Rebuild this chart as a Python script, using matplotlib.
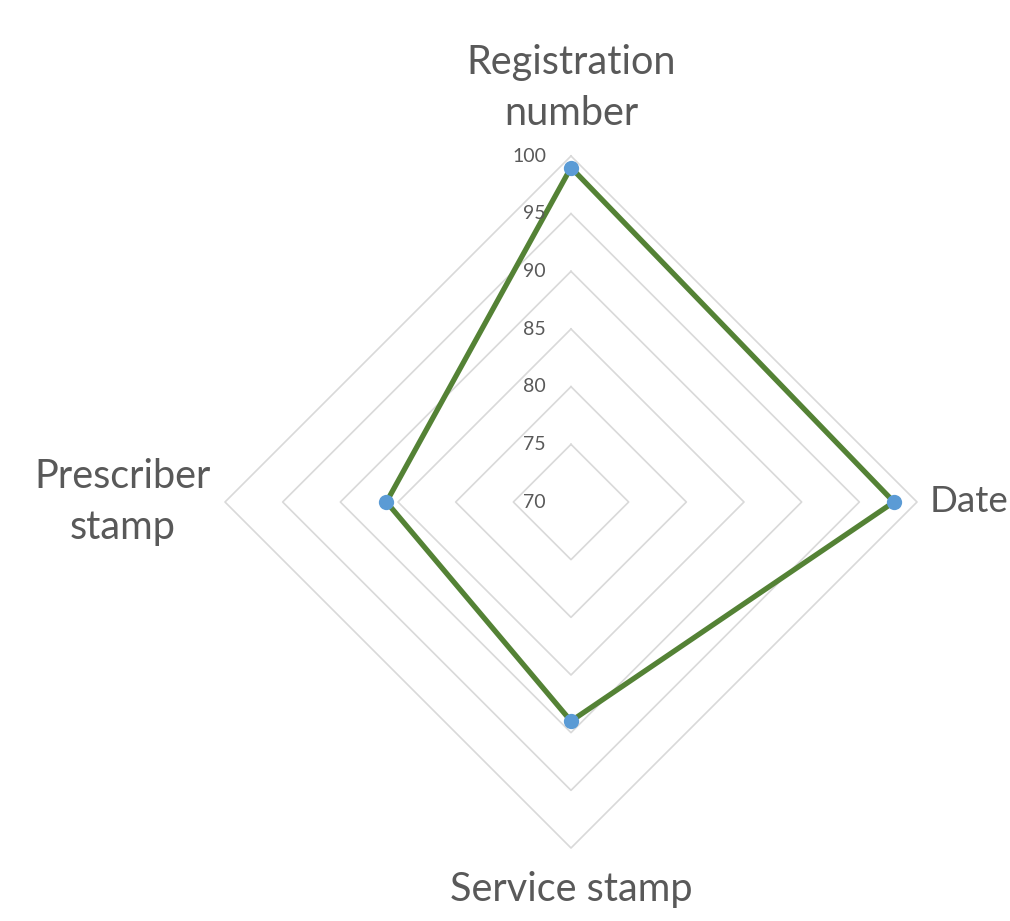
import numpy as np
import matplotlib
matplotlib.use("Agg")
import matplotlib.pyplot as plt
from matplotlib.transforms import offset_copy

categories = ["Registration\nnumber", "Date", "Service stamp", "Prescriber\nstamp"]
values = [99, 98, 89, 86]
levels = [70, 75, 80, 85, 90, 95, 100]

plt.rcParams['font.family'] = ['Lato', 'DejaVu Sans']

fig = plt.figure(figsize=(10.1, 9.21), dpi=100)
W, H = 1010, 921
cx, cy, R = 571, 502, 346
ax = fig.add_axes([(cx - R) / W, (H - cy - R) / H, 2 * R / W, 2 * R / H], projection='polar')
ax.set_theta_offset(np.pi / 2)
ax.set_theta_direction(-1)
ax.set_ylim(levels[0], levels[-1])
ax.grid(False)
ax.spines['polar'].set_visible(False)
ax.set_xticks([])
ax.set_yticks([])
ax.patch.set_alpha(0)

n = len(categories)
theta = np.arange(n) * 2 * np.pi / n
theta_c = np.append(theta, theta[0])

for lv in levels[1:]:
    ax.plot(theta_c, [lv] * (n + 1), color='#D9D9D9', lw=1.2, zorder=1, clip_on=False)

vals_c = values + values[:1]
ax.plot(theta_c, vals_c, color='#548235', lw=3.8, zorder=3, solid_joinstyle='miter', clip_on=False)
ax.plot(theta, values, 'o', color='#5B9BD5', ms=11, zorder=4, mec='none', clip_on=False)

tick_tr = offset_copy(ax.transData, fig=fig, x=-25, y=0, units='dots')
for lv in levels:
    ax.text(0, lv, str(lv), transform=tick_tr, ha='right', va='center',
            fontsize=14, color='#595959')

lab_color = '#595959'
fs = 28.5
tr_top = offset_copy(ax.transData, fig=fig, x=0, y=68, units='dots')
ax.text(theta[0], levels[-1], categories[0], transform=tr_top, ha='center', va='center',
        fontsize=fs, color=lab_color, multialignment='center', linespacing=1.45)
tr_right = offset_copy(ax.transData, fig=fig, x=13, y=0, units='dots')
ax.text(theta[1], levels[-1], categories[1], transform=tr_right, ha='left', va='center',
        fontsize=26.5, color=lab_color)
tr_bot = offset_copy(ax.transData, fig=fig, x=0, y=-42, units='dots')
ax.text(theta[2], levels[-1], categories[2], transform=tr_bot, ha='center', va='center',
        fontsize=fs, color=lab_color)
tr_left = offset_copy(ax.transData, fig=fig, x=-14, y=0, units='dots')
ax.text(theta[3], levels[-1], categories[3], transform=tr_left, ha='right', va='center',
        fontsize=fs, color=lab_color, multialignment='center', linespacing=1.45)

fig.savefig("out.png", dpi=100)
